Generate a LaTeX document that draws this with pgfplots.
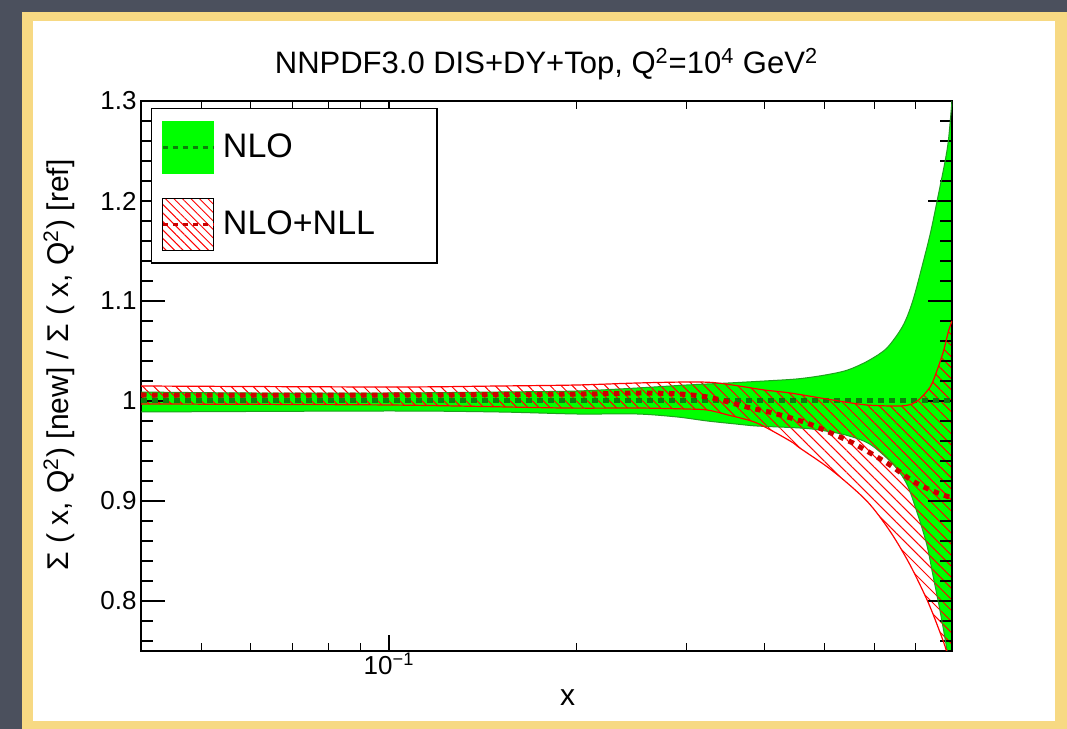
\documentclass[border=0pt]{standalone}
\usepackage{pgfplots}
\pgfplotsset{compat=1.18}
\usepackage{pgfplotstable}
\usepgfplotslibrary{fillbetween}
\usetikzlibrary{patterns.meta}
\usepackage{fontspec}
\setmainfont{Liberation Sans}
\definecolor{bgdark}{HTML}{4B505D}
\definecolor{frameyellow}{HTML}{F7D983}
\definecolor{nlogreen}{HTML}{00FF00}
\definecolor{nloedge}{HTML}{1F9F1F}
\definecolor{nlocentral}{HTML}{0B7F0B}
\definecolor{nllred}{HTML}{FF0000}
\definecolor{nllcentral}{HTML}{CC0000}
\pgfplotsset{layers/bgset/.define layer set={bglayer,axis background,axis grid,axis ticks,axis lines,axis tick labels,pre main,main,axis descriptions,axis foreground}{}}

% NLO band (upper / lower / central)
\pgfplotstableread{
x y
0.04 1.009
0.06 1.008
0.10 1.008
0.15 1.009
0.20 1.010
0.25 1.013
0.30 1.016
0.35 1.018
0.40 1.020
0.45 1.022
0.49 1.025
0.53 1.029
0.555 1.033
0.59 1.041
0.629 1.053
0.667 1.075
0.692 1.100
0.72 1.140
0.74 1.170
0.76 1.205
0.78 1.240
0.79 1.262
0.80 1.300
}\gup
\pgfplotstableread{
x y
0.04 0.989
0.10 0.990
0.15 0.989
0.20 0.987
0.25 0.987
0.29 0.984
0.324 0.980
0.36 0.977
0.389 0.975
0.456 0.973
0.49 0.971
0.54 0.966
0.59 0.957
0.643 0.937
0.677 0.917
0.702 0.890
0.7285 0.857
0.745 0.827
0.764 0.793
0.781 0.760
0.80 0.720
}\glo
\pgfplotstableread{
x y
0.04 1.000
0.10 1.000
0.20 1.000
0.40 1.000
0.60 1.000
0.80 1.000
}\gc
% NLO+NLL band (upper / lower / central)
\pgfplotstableread{
x y
0.04 1.015
0.10 1.014
0.15 1.015
0.20 1.016
0.25 1.018
0.30 1.019
0.33 1.0185
0.36 1.0155
0.40 1.011
0.44 1.008
0.515 1.001
0.584 0.996
0.66 0.995
0.69 0.997
0.71 1.002
0.73 1.010
0.745 1.019
0.773 1.047
0.79 1.070
0.80 1.080
}\rup
\pgfplotstableread{
x y
0.04 0.997
0.10 0.996
0.19 0.993
0.25 0.993
0.30 0.992
0.324 0.991
0.35 0.986
0.389 0.978
0.44 0.960
0.456 0.953
0.515 0.930
0.584 0.900
0.636 0.870
0.684 0.837
0.731 0.800
0.764 0.770
0.784 0.750
0.80 0.725
}\rlo
\pgfplotstableread{
x y
0.04 1.006
0.10 1.006
0.20 1.007
0.253 1.008
0.293 1.007
0.324 1.004
0.35 0.999
0.38 0.993
0.413 0.988
0.468 0.978
0.529 0.964
0.555 0.958
0.629 0.938
0.692 0.920
0.745 0.910
0.80 0.903
}\rc

\begin{document}
\begin{tikzpicture}[x=0.5pt,y=0.5pt]
\begin{axis}[
  set layers=bgset,
  at={(70.5pt,39pt)}, anchor=south west,
  scale only axis, width=405.5pt, height=275pt,
  xmode=log, xmin=0.04, xmax=0.8, ymin=0.75, ymax=1.3,
  axis line style={line width=0.75pt},
  every tick/.style={black, line width=0.6pt},
  tick align=inside, tick pos=both,
  xtick={0.1}, xticklabels={10\textsuperscript{−1}},
  minor xtick={0.04,0.05,0.06,0.07,0.08,0.09,0.2,0.3,0.4,0.5,0.6,0.7},
  ytick={0.8,0.9,1,1.1,1.2,1.3},
  minor ytick={0.76,0.78,0.82,0.84,0.86,0.88,0.92,0.94,0.96,0.98,1.02,1.04,1.06,1.08,1.12,1.14,1.16,1.18,1.22,1.24,1.26,1.28},
  major tick length=12pt, minor tick length=6pt,
  major x tick style={/pgfplots/major tick length=8pt},
  minor x tick style={/pgfplots/minor tick length=4pt},
  /pgf/number format/assume math mode=true,
  tick label style={font=\fontsize{13}{13}\selectfont},
  yticklabel style={inner xsep=2pt},
  xticklabel style={inner ysep=1pt},
  title={NNPDF3.0 DIS+DY+Top, Q\textsuperscript{2}=10\textsuperscript{4} GeV\textsuperscript{2}},
  title style={at={(axis description cs:0.5,1.0454)}, anchor=center, yshift=0pt, font=\fontsize{15.5}{15.5}\selectfont},
  xlabel={x},
  xlabel style={at={(axis description cs:0.526,-0.085)}, anchor=center, font=\fontsize{15}{15}\selectfont},
  ylabel={Σ ( x, Q\textsuperscript{2}) [new] / Σ ( x, Q\textsuperscript{2}) [ref]},
  ylabel style={at={(axis description cs:-0.101,0.52)}, anchor=center, font=\fontsize{15}{15}\selectfont},
  legend style={at={(axis description cs:0.0123,0.987)}, anchor=north west,
    draw=black, line width=0.6pt, fill=white,
    inner xsep=5pt, inner ysep=6pt, row sep=12pt, column sep=4pt,
    nodes={inner sep=0pt, anchor=west},
    font=\fontsize{17}{17}\selectfont},
]
\addlegendimage{legend image code/.code={
  \fill[nlogreen] (0pt,-13pt) rectangle (25.5pt,13pt);
  \draw[nlocentral, line width=1.2pt, dash pattern=on 2.5pt off 2.5pt] (0pt,0pt) -- (25.5pt,0pt);}}
\addlegendentry{\makebox[102pt][l]{NLO}}
\addlegendimage{legend image code/.code={
  \fill[pattern={Lines[angle=-45,distance=3pt,line width=0.5pt]}, pattern color=nllred] (0pt,-13pt) rectangle (25.5pt,13pt);
  \draw[nllcentral, line width=1.2pt, dash pattern=on 2.5pt off 2.5pt] (0pt,0pt) -- (25.5pt,0pt);}}
\addlegendentry{\makebox[102pt][l]{NLO+NLL}}

% band boundaries (named)
\addplot[name path=gu, draw=none, smooth, forget plot] table {\gup};
\addplot[name path=gl, draw=none, smooth, forget plot] table {\glo};
\addplot[name path=ru, draw=none, smooth, forget plot] table {\rup};
\addplot[name path=rl, draw=none, smooth, forget plot] table {\rlo};
% fills (layer pre main)
\addplot[fill=nlogreen, draw=none, forget plot] fill between[of=gu and gl];
\addplot[pattern={Lines[angle=-45,distance=3.9pt,line width=0.5pt]}, pattern color=nllred, draw=none, forget plot] fill between[of=ru and rl];
% edges and central values
\addplot[draw=nloedge, line width=0.5pt, smooth, forget plot] table {\gup};
\addplot[draw=nloedge, line width=0.5pt, smooth, forget plot] table {\glo};
\addplot[nlocentral, line width=2.5pt, dash pattern=on 2.75pt off 2.75pt, forget plot] table {\gc};
\addplot[draw=nllred, line width=0.6pt, smooth, forget plot] table {\rup};
\addplot[draw=nllred, line width=0.6pt, smooth, forget plot] table {\rlo};
\addplot[nllcentral, line width=2.5pt, dash pattern=on 2.75pt off 2.75pt, smooth, forget plot] table {\rc};
\end{axis}
\begin{pgfonlayer}{bglayer}
\fill[bgdark] (0,0) rectangle (1067,729);
\fill[frameyellow] (22,0) rectangle (1067,717);
\fill[white] (33,8) rectangle (1055,708);
\end{pgfonlayer}
\end{tikzpicture}
\end{document}
